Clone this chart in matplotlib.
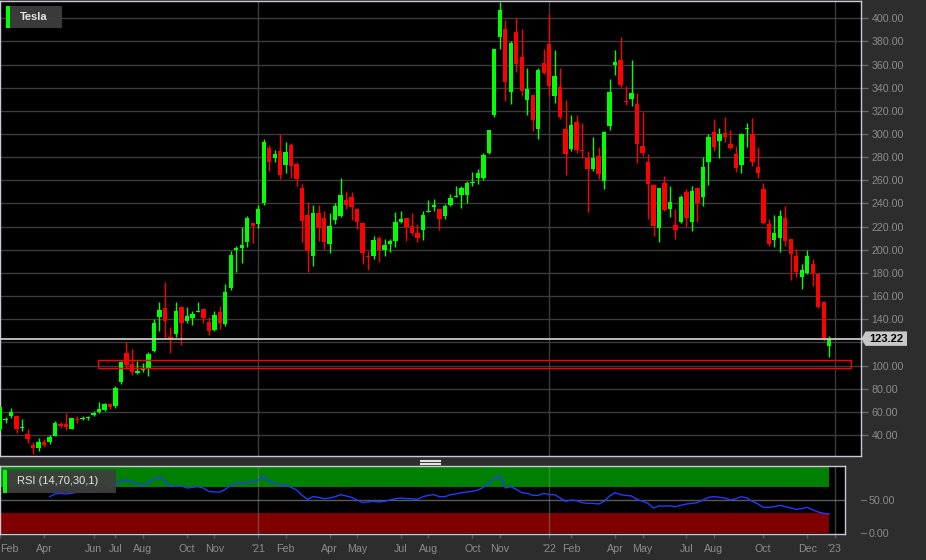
import numpy as np
import pandas as pd
import matplotlib
matplotlib.use("Agg")
import matplotlib.pyplot as plt
from matplotlib.patches import Rectangle, Polygon
from matplotlib.lines import Line2D
from matplotlib.transforms import IdentityTransform

plt.rcParams['font.family'] = ['Liberation Sans', 'DejaVu Sans']

# weekly bars, first bar = week of 2020-02-03
FIRST_WEEK = "2020-02-03"
OPEN = [45.0, 53.3, 56.6, 56.6, 46.6, 40.8, 31.3, 28.6, 34.1, 34.1,
        39.3, 49.0, 49.4, 45.6, 54.2, 54.1, 54.5, 57.2, 60.0, 61.5,
        66.7, 64.7, 85.4, 110.7, 101.2, 93.6, 96.8, 97.5, 112.2, 141.5,
        149.3, 124.8, 127.2, 150.2, 138.6, 140.9, 146.4, 148.7, 138.0, 130.9,
        146.4, 135.9, 166.6, 199.9, 201.4, 206.3, 223.0, 221.9, 240.2, 287.5,
        279.7, 285.4, 273.0, 290.3, 273.9, 253.7, 229.9, 194.8, 231.4, 227.3,
        204.8, 225.8, 229.1, 243.1, 245.6, 234.9, 222.8, 194.5, 194.8, 210.0,
        199.8, 205.2, 207.7, 223.6, 227.3, 220.7, 214.3, 217.2, 233.0, 236.8,
        235.0, 228.8, 238.5, 245.4, 247.2, 247.4, 257.9, 261.8, 262.4, 284.0,
        316.5, 383.6, 390.5, 336.4, 388.2, 366.9, 329.5, 333.5, 304.7, 361.1,
        377.5, 332.9, 341.0, 304.1, 286.9, 310.8, 285.9, 279.7, 269.6, 280.6,
        259.5, 306.5, 360.0, 364.0, 328.6, 330.0, 325.7, 289.3, 276.0, 255.8,
        218.7, 258.1, 235.0, 221.2, 223.6, 250.3, 224.1, 253.2, 245.7, 276.2,
        301.6, 294.0, 300.7, 291.2, 282.6, 273.1, 304.0, 299.8, 271.9, 252.3,
        222.1, 208.6, 210.0, 227.3, 209.1, 194.2, 176.1, 179.8, 187.6, 179.0,
        155.0, 117.0]
HIGH = [65.0, 55.6, 63.0, 57.5, 54.0, 45.0, 34.0, 37.0, 36.5, 40.0,
        52.0, 51.0, 59.0, 55.0, 56.0, 56.2, 56.5, 60.6, 68.5, 68.0,
        67.8, 82.0, 104.3, 120.0, 114.7, 104.0, 102.2, 111.3, 140.0, 154.5,
        171.8, 133.0, 154.5, 151.6, 150.2, 146.7, 155.3, 149.0, 141.5, 147.2,
        151.6, 170.3, 199.0, 203.4, 219.8, 229.3, 223.5, 238.5, 295.5, 290.3,
        286.3, 300.4, 293.2, 292.6, 275.4, 256.5, 240.9, 238.4, 238.4, 233.6,
        231.6, 240.2, 261.6, 250.9, 250.0, 236.5, 223.5, 199.0, 212.2, 212.2,
        209.0, 209.7, 232.7, 233.6, 227.8, 231.4, 222.3, 233.6, 242.8, 243.7,
        235.5, 239.4, 248.0, 254.7, 254.7, 259.0, 267.3, 269.6, 283.5, 303.5,
        373.8, 414.0, 398.5, 380.4, 400.6, 391.0, 357.4, 334.0, 357.4, 373.2,
        403.5, 372.4, 357.4, 329.2, 316.2, 316.0, 309.3, 285.4, 297.0, 289.0,
        302.7, 347.3, 372.4, 384.2, 341.6, 363.6, 335.8, 318.6, 282.6, 256.7,
        253.5, 263.8, 255.2, 235.0, 247.1, 252.3, 254.7, 254.0, 280.2, 299.8,
        313.4, 305.6, 314.8, 303.5, 289.7, 301.3, 309.3, 314.2, 289.0, 257.3,
        227.0, 229.9, 234.2, 237.4, 209.5, 201.1, 187.6, 200.0, 191.9, 179.8,
        156.0, 125.1]
LOW = [44.5, 50.0, 55.0, 41.5, 43.7, 33.0, 23.5, 26.2, 29.6, 32.5,
       39.0, 46.3, 44.5, 45.0, 50.3, 53.2, 52.8, 56.7, 58.8, 60.5,
       62.5, 63.4, 84.0, 96.6, 91.7, 93.0, 94.6, 91.1, 111.3, 129.5,
       123.4, 110.7, 125.0, 117.6, 136.6, 135.2, 145.9, 136.6, 126.2, 130.0,
       131.5, 134.3, 165.4, 180.4, 189.0, 202.0, 205.7, 218.4, 238.8, 268.1,
       275.4, 261.0, 266.2, 262.4, 254.7, 206.8, 180.4, 186.1, 207.7, 200.5,
       197.0, 222.0, 227.9, 234.9, 226.0, 217.8, 187.5, 182.6, 192.1, 189.7,
       194.2, 198.0, 202.8, 222.9, 207.7, 212.6, 206.3, 208.6, 232.7, 233.6,
       216.9, 226.4, 237.4, 245.2, 236.5, 240.2, 254.7, 256.7, 260.0, 282.6,
       314.8, 373.2, 328.6, 326.3, 353.6, 332.9, 316.5, 302.7, 295.5, 351.6,
       332.9, 327.2, 312.8, 264.4, 285.4, 283.4, 279.7, 233.0, 268.0, 261.0,
       252.3, 303.5, 350.8, 340.2, 324.9, 324.3, 274.8, 281.0, 227.0, 211.5,
       206.3, 233.8, 227.9, 209.2, 223.0, 219.3, 216.3, 224.4, 237.4, 256.0,
       285.4, 279.7, 292.7, 286.9, 266.8, 266.2, 288.9, 272.5, 262.4, 222.0,
       203.4, 202.0, 198.2, 203.4, 174.1, 176.1, 166.0, 178.9, 168.9, 150.0,
       121.0, 107.8]
CLOSE = [64.0, 53.6, 60.0, 45.0, 47.0, 36.6, 28.6, 34.1, 31.5, 38.3,
         50.2, 48.3, 47.1, 54.5, 53.4, 54.6, 55.2, 59.0, 62.4, 66.7,
         64.5, 80.5, 103.0, 100.4, 94.6, 95.5, 97.2, 110.0, 136.6, 148.0,
         138.6, 122.0, 147.2, 136.6, 142.4, 144.4, 146.9, 140.7, 130.0, 143.5,
         136.6, 163.3, 195.3, 201.4, 204.2, 227.3, 220.6, 235.0, 293.5, 275.4,
         282.6, 264.4, 284.5, 272.5, 261.0, 225.0, 199.0, 231.6, 218.7, 206.6,
         220.7, 237.4, 247.1, 238.8, 237.0, 224.0, 196.8, 193.6, 208.8, 200.0,
         204.0, 208.0, 224.0, 226.4, 219.3, 214.9, 209.8, 230.2, 233.5, 239.1,
         227.0, 237.4, 244.6, 246.0, 253.2, 258.1, 258.4, 266.2, 281.7, 303.3,
         373.2, 406.9, 345.0, 379.0, 360.9, 337.3, 338.7, 312.2, 355.4, 353.1,
         341.5, 350.2, 314.8, 282.6, 307.6, 286.3, 285.4, 270.2, 279.3, 265.3,
         302.1, 336.7, 362.3, 342.1, 328.0, 335.0, 291.5, 283.4, 256.7, 220.7,
         253.2, 234.2, 241.7, 217.2, 246.0, 227.3, 251.2, 240.2, 271.9, 297.5,
         288.9, 299.8, 297.0, 287.7, 270.5, 299.8, 304.7, 275.4, 266.2, 222.7,
         205.4, 214.3, 228.8, 207.7, 196.2, 180.4, 182.6, 194.8, 179.0, 150.2,
         123.4, 123.22]

# RSI (14) weekly, first value on bar 9
RSI_START = 9
RSI = [55, 59, 60, 59, 60, 62, 62, 62, 63, 64, 66, 68, 72, 80, 79, 77, 74, 73, 76, 81,
       85, 78, 70, 71, 71, 68, 69, 70, 68, 63, 62, 62, 66, 72, 75, 76, 77, 77, 80, 85,
       78, 75, 73, 72, 69, 65, 57, 51, 55, 54, 52, 53, 55, 58, 56, 54, 50, 46, 47, 48,
       47, 48, 50, 52, 53, 52, 52, 51, 55, 57, 58, 55, 55, 58, 59, 61, 62, 63, 65, 69,
       76, 83, 86, 68, 70, 66, 61, 60, 57, 57, 60, 58, 58, 53, 48, 50, 49, 46, 45, 45,
       44, 48, 56, 61, 58, 57, 56, 51, 48, 45, 38, 41, 41, 41, 40, 42, 44, 45, 46, 50,
       54, 55, 54, 53, 50, 52, 55, 53, 48, 44, 39, 39, 40, 42, 40, 38, 36, 37, 39, 35,
       32, 30, 29]

LAST = 123.22
ZONE_LOW, ZONE_HIGH = 98.0, 104.7
ZONE_BARS = (17.9, 155.0)

PRICE_TICKS = list(range(40, 401, 20))
HIDDEN_TICKS = [120]          # covered by the last-price tag

MONTHS = ["2020-02", "2020-04", "2020-06", "2020-07", "2020-08", "2020-10", "2020-11",
          "2021-01", "2021-02", "2021-04", "2021-05", "2021-07", "2021-08", "2021-10",
          "2021-11", "2022-01", "2022-02", "2022-04", "2022-05", "2022-07", "2022-08",
          "2022-10", "2022-12", "2023-01"]
MONTH_LABELS = ["Feb", "Apr", "Jun", "Jul", "Aug", "Oct", "Nov", "'21", "Feb", "Apr", "May",
                "Jul", "Aug", "Oct", "Nov", "'22", "Feb", "Apr", "May", "Jul", "Aug", "Oct",
                "Dec", "'23"]

BG = "#2d2d2d"; UP = "#00ff00"; DN = "#ff0000"; GRID = "#3c3c3c"
TXT = "#8c8c8c"; EDGE = "#c8c8d8"; BOXC = "#3e3e3e"

W, H = 926, 560
BAR_PX = 5.49
fig = plt.figure(figsize=(W / 100, H / 100), dpi=100, facecolor=BG)

def px_box(x0, y0, x1, y1):
    return [x0 / W, 1 - y1 / H, (x1 - x0) / W, (y1 - y0) / H]

ax = fig.add_axes(px_box(0, 1, 861, 456))
rx = fig.add_axes(px_box(0, 465.7, 845, 534))

n = len(CLOSE)
idx = np.arange(n)
o, h, l, c = map(np.array, (OPEN, HIGH, LOW, CLOSE))

# bar index of first week whose Friday falls in each labelled month
weeks = pd.date_range(FIRST_WEEK, periods=n + 4, freq="7D")
fridays = weeks + pd.Timedelta(days=4)
tick_pos = [int(np.argmax(fridays >= pd.Timestamp(m))) for m in MONTHS]
year_pos = [p for p, lab in zip(tick_pos, MONTH_LABELS) if lab.startswith("'")]

# ---- price panel
ax.set_facecolor("black")
ax.set_xlim(-0.2 / BAR_PX, (861 - 0.2) / BAR_PX)
ax.set_ylim(21.86, 414.9)
ax.set_yticks(PRICE_TICKS)
ax.set_yticklabels(["" if v in HIDDEN_TICKS else f"{v:.2f}" for v in PRICE_TICKS])
ax.yaxis.tick_right()
ax.tick_params(axis="y", length=5, width=1, color="#6a6a6a", labelcolor=TXT,
               labelsize=7.7, pad=2.5)
ax.set_xticks([])
ax.grid(axis="y", color=GRID, lw=1)
ax.set_axisbelow(True)
for p in year_pos:
    ax.axvline(p, color=GRID, lw=1, zorder=1)
for s in ax.spines.values():
    s.set_color(EDGE); s.set_linewidth(1)

col = np.where(c >= o, UP, DN)
ax.vlines(idx, l, h, colors=col, lw=1, zorder=3)
body = np.maximum(np.abs(c - o), 0.9)
mid = (o + c) / 2
ax.bar(idx, body, bottom=mid - body / 2, width=0.8, color=col, lw=0, zorder=4)

ax.add_patch(Rectangle((ZONE_BARS[0], ZONE_LOW), ZONE_BARS[1] - ZONE_BARS[0],
                       ZONE_HIGH - ZONE_LOW, fill=False, edgecolor=DN, lw=1, zorder=5))
ax.axhline(LAST, color="#c8c8c8", lw=1.3, zorder=5)

# ---- RSI panel
rx.set_facecolor("black")
rx.set_xlim(-0.2 / BAR_PX, (845 - 0.2) / BAR_PX)
rx.set_ylim(-1.05, 101.5)
rx.fill_between([rx.get_xlim()[0], n - 1], 70, 100, color="#008000", lw=0, zorder=1)
rx.fill_between([rx.get_xlim()[0], n - 1], 0, 30, color="#800000", lw=0, zorder=1)
rx.axhline(50, color="#5a5a5a", lw=1, zorder=2)
for p in year_pos:
    rx.axvline(p, color="#8a8a8a", lw=1, alpha=0.45, zorder=2)
rx.plot(np.arange(RSI_START, RSI_START + len(RSI)), RSI, color="#1f3cff", lw=1, zorder=3)
for s in rx.spines.values():
    s.set_color(EDGE); s.set_linewidth(1)
rx.yaxis.tick_right()
rx.set_yticks([0, 50])
rx.set_yticklabels(["0.00", "50.00"])
rx.tick_params(axis="y", length=0, labelcolor=TXT, labelsize=7.7, pad=17.3)
rx.set_xticks(tick_pos)
rx.set_xticklabels(MONTH_LABELS)
rx.tick_params(axis="x", length=3, width=1, color="#5a5a5a", labelcolor=TXT,
               labelsize=7.7, pad=4.5)
rx.get_xticklabels()[0].set_ha("left")

# small dashes next to RSI scale labels
for v in (0, 50):
    yy = rx.transData.transform((0, v))[1]
    fig.add_artist(Line2D([861, 866], [yy, yy], color="#6a6a6a", lw=1,
                          transform=IdentityTransform()))

# ---- decorations: legends, price tag, splitter handle
def label_box(x0, y0, x1, y1, text, weight):
    fig.add_artist(Rectangle((x0 / W, 1 - y1 / H), (x1 - x0) / W, (y1 - y0) / H,
                             transform=fig.transFigure, color=BOXC, alpha=0.95, lw=0))
    fig.add_artist(Rectangle((x0 / W, 1 - y1 / H), 3.5 / W, (y1 - y0) / H,
                             transform=fig.transFigure, color=UP, lw=0))
    fig.text((x0 + 14) / W, 1 - (y0 + y1) / 2 / H, text, color="#e6e6e6",
             fontsize=8, fontweight=weight, va="center", ha="left")

label_box(6, 6, 62, 28, "Tesla", "bold")
label_box(3, 470, 116, 493, "RSI (14,70,30,1)", "normal")

ty = ax.transData.transform((0, LAST))[1]
fig.add_artist(Polygon([[861.5, ty], [865.5, ty + 7.2], [907, ty + 7.2], [907, ty - 7.2],
                        [865.5, ty - 7.2]], closed=True, color="#c8c8c8", lw=0,
                       transform=IdentityTransform()))
fig.text(886, ty, f"{LAST:.2f}", transform=IdentityTransform(), color="black",
         fontsize=8, fontweight="bold", ha="center", va="center")

for k in range(4):
    yy = H - (459.5 + 1.5 * k)
    fig.add_artist(Line2D([420, 440], [yy, yy], color="#e0e0e0", lw=0.8,
                          transform=IdentityTransform()))

fig.savefig("out.png", dpi=100, facecolor=BG)
